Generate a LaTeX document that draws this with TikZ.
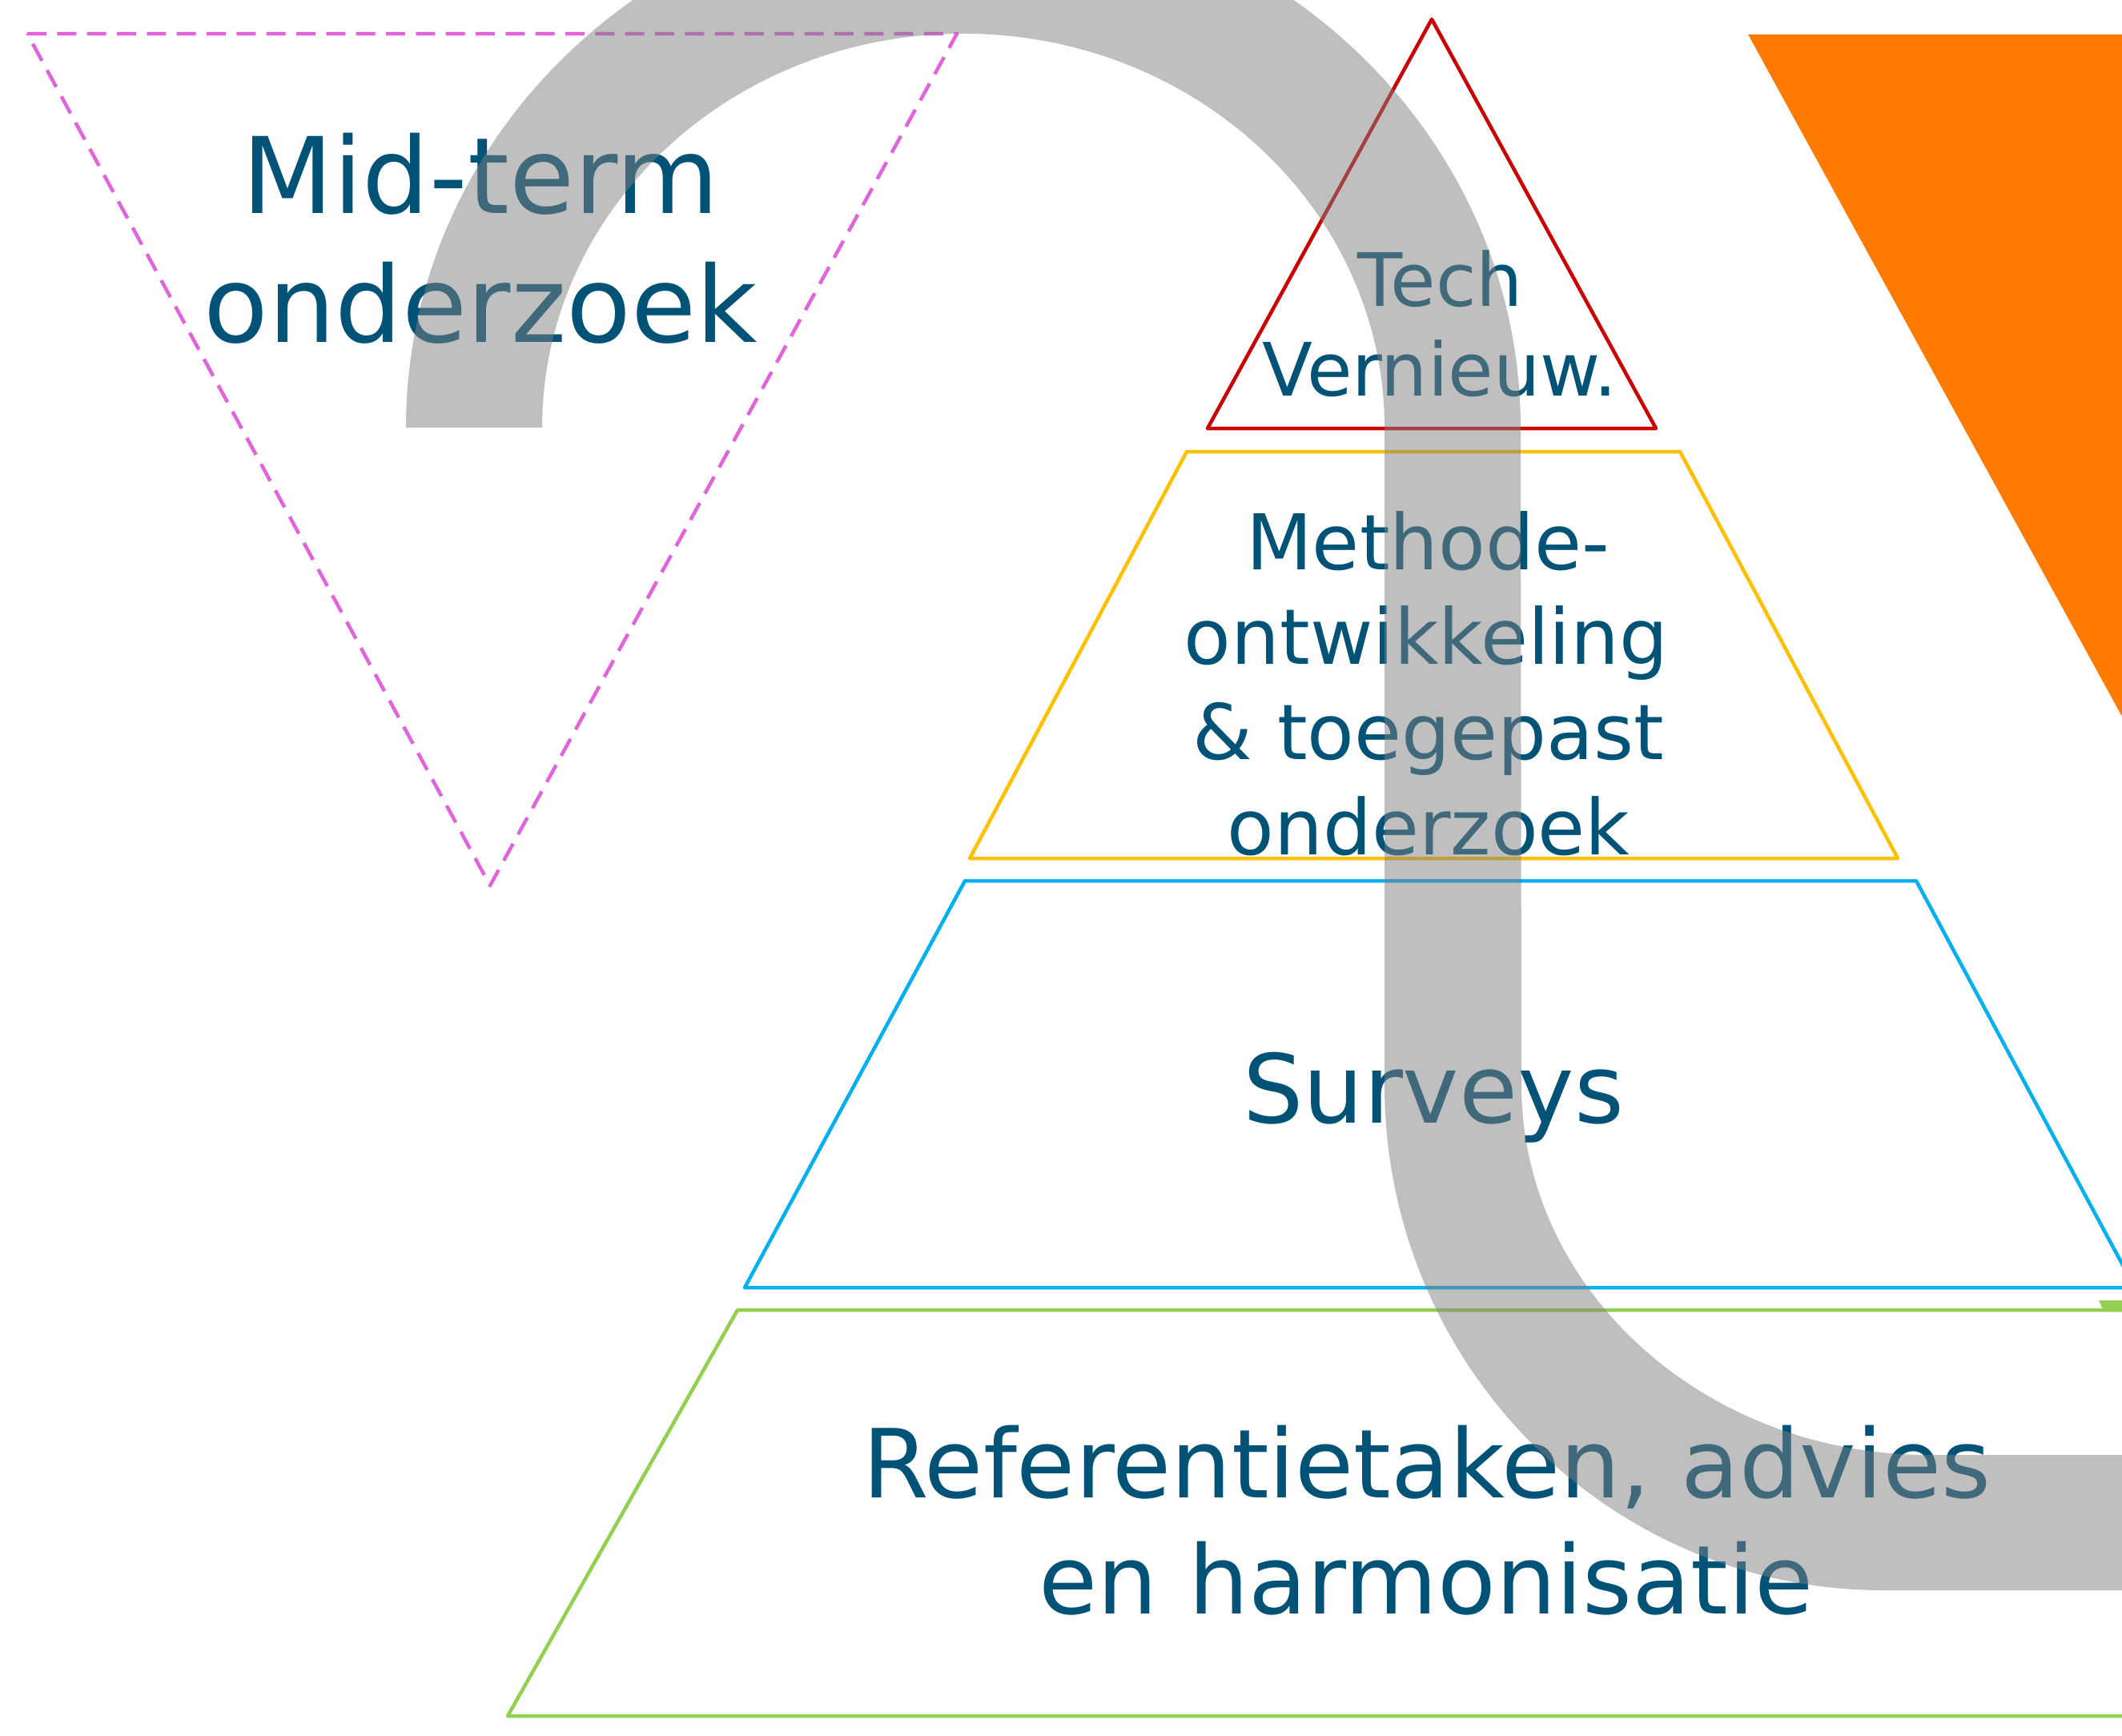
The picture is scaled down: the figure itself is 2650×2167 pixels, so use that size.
\documentclass[tikz,border=0pt]{standalone}
\usepackage{fontspec}
\setmainfont{DejaVu Sans}
\begin{document}
\begin{tikzpicture}[x=0.3pt,y=-0.3pt]
\definecolor{txt}{RGB}{0,82,118}
\definecolor{bandgrey}{RGB}{128,128,128}
\definecolor{pyrred}{RGB}{204,0,0}
\definecolor{pyryellow}{RGB}{255,192,0}
\definecolor{pyrblue}{RGB}{0,176,240}
\definecolor{pyrgreen}{RGB}{146,208,80}
\definecolor{dashpink}{RGB}{226,100,220}
\definecolor{orangefill}{RGB}{255,122,0}
\tikzset{
  outline/.style={line width=1.35pt, line join=round},
  lbl/.style={text=txt, anchor=base, inner sep=0pt},
  fbig/.style={font=\fontsize{39.6pt}{47pt}\selectfont},
  fmed/.style={font=\fontsize{35.7pt}{43pt}\selectfont},
  fsmall/.style={font=\fontsize{28.8pt}{34pt}\selectfont},
  ftech/.style={font=\fontsize{27.6pt}{33pt}\selectfont},
}
\useasboundingbox (0,0) rectangle (2650,2167);
\clip (0,0) rectangle (2650,2167);
\fill[white] (0,0) rectangle (2650,2167);

% orange shape
\fill[orangefill] (2183,43) -- (2700,43) -- (2700,986) -- cycle;
% green wedge at right
\fill[pyrgreen] (2621,1624) -- (2700,1624) -- (2700,1637) -- (2627,1637) -- cycle;

% dashed inverted triangle
\draw[outline, dashpink, dash pattern=on 7.2pt off 4pt] (34,42) -- (1195,42) -- (612,1106) -- cycle;

% pyramid
\draw[outline, pyrred] (1788,24) -- (2068,535) -- (1508,535) -- cycle;
\draw[outline, pyryellow] (1482,564) -- (2098,564) -- (2370,1072) -- (1211,1072) -- cycle;
\draw[outline, pyrblue] (1205,1100) -- (2393,1100) -- (2666,1608) -- (930,1608) -- cycle;
\draw[outline, pyrgreen] (921,1636) -- (2720,1636) -- (2720,2143) -- (634,2143) -- cycle;

% labels
\node[lbl, fbig] (mid1) at (600,266) {Mid-term};
\node[lbl, fbig] (mid2) at (600,427) {onderzoek};
\node[lbl, ftech] (tech1) at (1799,382) {Tech};
\node[lbl, ftech] (tech2) at (1798,494) {Vernieuw.};
\node[lbl, fsmall] (meth1) at (1783,711) {Methode-};
\node[lbl, fsmall] (meth2) at (1781,829) {ontwikkeling};
\node[lbl, fsmall] (meth3) at (1784,948) {\& toegepast};
\node[lbl, fsmall] (meth4) at (1784,1067) {onderzoek};
\node[lbl, fmed] (surv) at (1790,1402) {Surveys};
\node[lbl, fmed] (ref1) at (1782,1870) {Referentietaken, advies};
\node[lbl, fmed] (ref2) at (1781,2015) {en harmonisatie};

% grey S-band on top, semi-transparent
\fill[bandgrey, opacity=0.5] (507,534) arc[start angle=180, end angle=360, x radius=696, y radius=663]
  -- (1900,1355) arc[start angle=180, end angle=90, x radius=509, y radius=462]
  -- (2700,1817) -- (2700,1986) -- (2352,1986)
  arc[start angle=90, end angle=180, x radius=623, y radius=631]
  -- (1729,534) arc[start angle=0, end angle=-180, x radius=526, y radius=492]
  -- cycle;
\end{tikzpicture}
\end{document}
